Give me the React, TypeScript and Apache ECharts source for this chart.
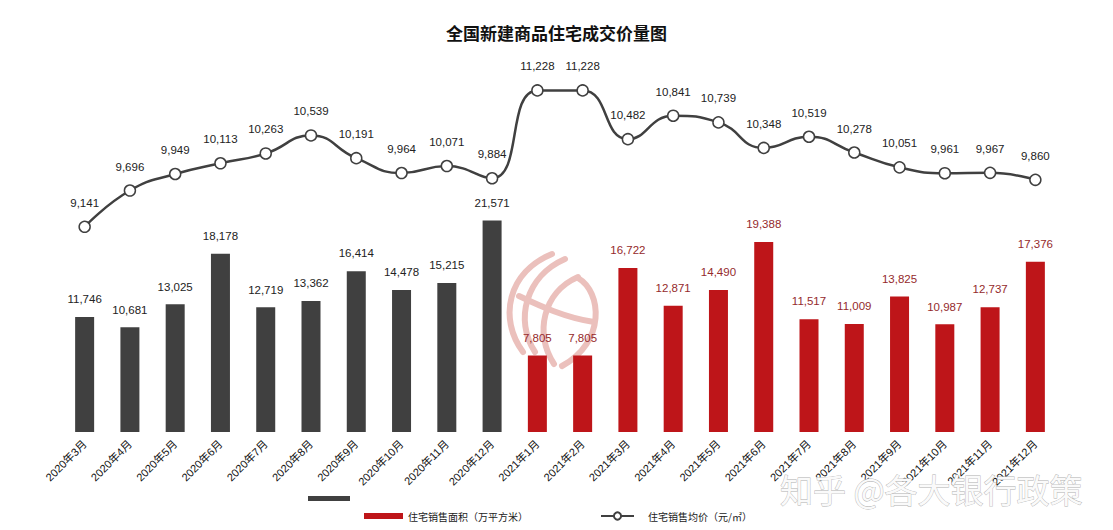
import React, { useEffect, useRef } from "react";
import * as echarts from "echarts";

const categories = [
  "2020年3月", "2020年4月", "2020年5月", "2020年6月", "2020年7月", "2020年8月",
  "2020年9月", "2020年10月", "2020年11月", "2020年12月",
  "2021年1月", "2021年2月", "2021年3月", "2021年4月", "2021年5月", "2021年6月",
  "2021年7月", "2021年8月", "2021年9月", "2021年10月", "2021年11月", "2021年12月",
];

const areaValues = [
  11746, 10681, 13025, 18178, 12719, 13362, 16414, 14478, 15215, 21571,
  7805, 7805, 16722, 12871, 14490, 19388, 11517, 11009, 13825, 10987, 12737, 17376,
];

const priceValues = [
  9141, 9696, 9949, 10113, 10263, 10539, 10191, 9964, 10071, 9884,
  11228, 11228, 10482, 10841, 10739, 10348, 10519, 10278, 10051, 9961, 9967, 9860,
];

const AREA_NAME = "住宅销售面积（万平方米）";
const PRICE_NAME = "住宅销售均价（元/㎡）";

const DARK = "#404040";
const RED = "#be1519";
const RED_LABEL = "#952a2c";
const NUM_FONT = "'Liberation Sans', 'Noto Sans CJK SC', sans-serif";
const CJK_FONT = "'Noto Sans CJK SC', sans-serif";
const LOGO = "#ebc0bc";

const fmt = (v: number) => v.toLocaleString("en-US");

const curve = (x1: number, y1: number, c1x: number, c1y: number, c2x: number, c2y: number, x2: number, y2: number) => ({
  type: "bezierCurve",
  silent: true,
  z: 1,
  shape: { x1, y1, cpx1: c1x, cpy1: c1y, cpx2: c2x, cpy2: c2y, x2, y2 },
  style: { stroke: LOGO, lineWidth: 6, fill: "none", lineCap: "round" },
});

export default function App() {
  const ref = useRef<HTMLDivElement>(null);

  useEffect(() => {
    if (!ref.current) return;
    const chart = echarts.init(ref.current, undefined, { renderer: "svg" });

    const barData = areaValues.map((v, i) =>
      categories[i].startsWith("2020")
        ? { value: v, itemStyle: { color: DARK }, label: { color: "#222" } }
        : { value: v }
    );

    chart.setOption({
      animation: false,
      backgroundColor: "#ffffff",
      title: {
        text: "全国新建商品住宅成交价量图",
        left: "center",
        top: 19,
        textStyle: { fontSize: 17, fontWeight: "bold", color: "#111", fontFamily: CJK_FONT },
      },
      grid: { left: 62, right: 55, top: 40, bottom: 98, containLabel: false },
      legend: [
        {
          data: [AREA_NAME],
          left: 364,
          top: 511,
          padding: 0,
          itemWidth: 39,
          itemHeight: 6,
          icon: "rect",
          textStyle: { fontSize: 10, color: "#222", fontFamily: CJK_FONT },
        },
        {
          data: [PRICE_NAME],
          left: 600,
          top: 511,
          padding: 0,
          itemWidth: 33,
          itemHeight: 9,
          textStyle: { fontSize: 10, color: "#222", fontFamily: CJK_FONT, padding: [0, 0, 0, 9] },
        },
      ],
      xAxis: {
        type: "category",
        data: categories,
        axisLine: { show: false },
        axisTick: { show: false },
        axisLabel: {
          interval: 0,
          rotate: 45,
          fontSize: 11,
          color: "#111",
          margin: 10,
          fontFamily: NUM_FONT,
        },
      },
      yAxis: [
        { type: "value", min: 0, max: 40000, show: false },
        { type: "value", min: 6000, max: 12000, show: false },
      ],
      series: [
        {
          name: AREA_NAME,
          type: "bar",
          yAxisIndex: 0,
          barWidth: 19,
          z: 2,
          itemStyle: { color: RED },
          label: {
            show: true,
            position: "top",
            distance: 12,
            fontSize: 11.5,
            color: RED_LABEL,
            fontFamily: NUM_FONT,
            formatter: (p: any) => fmt(p.value),
          },
          data: barData,
        },
        {
          name: PRICE_NAME,
          type: "line",
          yAxisIndex: 1,
          smooth: true,
          symbol: "circle",
          symbolSize: 11,
          itemStyle: { color: "#ffffff", borderColor: DARK, borderWidth: 1.5 },
          lineStyle: { color: DARK, width: 2.5 },
          label: {
            show: true,
            position: "top",
            distance: 12,
            fontSize: 11.5,
            color: "#222",
            fontFamily: NUM_FONT,
            formatter: (p: any) => fmt(p.value),
          },
          z: 3,
          data: priceValues,
        },
      ],
      graphic: [
        {
          type: "rect",
          shape: { x: 308, y: 496, width: 42, height: 5 },
          style: { fill: DARK },
        },
        curve(523, 352, 498, 318, 508, 272, 552, 254),
        curve(535, 352, 514, 320, 526, 276, 565, 259),
        curve(554, 364, 534, 334, 543, 292, 578, 277),
        curve(578, 278, 602, 292, 606, 342, 562, 366),
        curve(519, 296, 540, 306, 566, 318, 594, 322),
        {
          type: "text",
          x: 780,
          y: 472,
          z: 100,
          silent: true,
          style: {
            text: "知乎 @各大银行政策",
            fontSize: 33,
            fontFamily: CJK_FONT,
            fill: "#fafafa",
            stroke: "#b0b0b0",
            lineWidth: 0.8,
            shadowColor: "rgba(0,0,0,0.35)",
            shadowBlur: 2,
            shadowOffsetX: 1,
            shadowOffsetY: 1,
          },
        },
      ],
    });

    return () => chart.dispose();
  }, []);

  return (
    <div
      ref={ref}
      style={{ position: "fixed", left: 0, top: 0, width: 1113, height: 530 }}
    />
  );
}
